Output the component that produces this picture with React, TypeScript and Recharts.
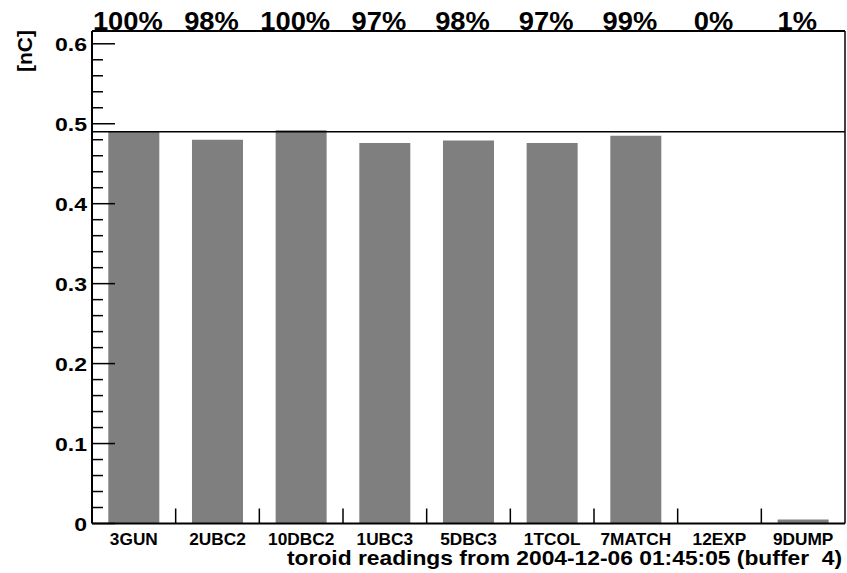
import React from 'react';
import { ComposedChart, Bar, Line, XAxis, YAxis, ReferenceLine, Label } from 'recharts';

// toroid charge per station, in nC
const stations = ['3GUN', '2UBC2', '10DBC2', '1UBC3', '5DBC3', '1TCOL', '7MATCH', '12EXP', '9DUMP'];
const charge = [0.49, 0.48, 0.492, 0.476, 0.479, 0.476, 0.485, 0, 0.005];
const nominalCharge = 0.49;

const yMajorTicks = [0, 0.1, 0.2, 0.3, 0.4, 0.5, 0.6];
const yMinorTicks = [
  0, 0.02, 0.04, 0.06, 0.08, 0.1, 0.12, 0.14, 0.16, 0.18, 0.2, 0.22, 0.24, 0.26, 0.28, 0.3,
  0.32, 0.34, 0.36, 0.38, 0.4, 0.42, 0.44, 0.46, 0.48, 0.5, 0.52, 0.54, 0.56, 0.58, 0.6,
];
const yDomain = [0, 0.616];

const unitLabel = '[nC]';
const title = 'toroid readings from 2004-12-06 01:45:05 (buffer  4)';

const FONT = '"Liberation Sans", Arial, Helvetica, sans-serif';
const INK = '#000';
const Y_LABEL_GAP = 5;

const data = stations.map((name, i) => ({
  name,
  charge: charge[i],
  pct: `${Math.round((charge[i] / nominalCharge) * 100)}%`,
}));

const isMajor = (v: number) => yMajorTicks.some((m) => Math.abs(m - v) < 1e-9);

// left axis: long marks + label on the tenths, short marks on every 0.02
const YTick = ({ x, y, payload }: any) => {
  const axisX = x + Y_LABEL_GAP;
  const major = isMajor(payload.value);
  return (
    <g>
      <line x1={axisX} x2={axisX + (major ? 23 : 11)} y1={y} y2={y} stroke={INK} strokeWidth={1.5} />
      {major && (
        <text
          transform={`translate(${x},${y + 7}) scale(1.28,1)`}
          textAnchor="end"
          fontSize={18}
          fontWeight="bold"
          fontFamily={FONT}
          fill={INK}
        >
          {payload.value === 0 ? '0' : payload.value.toFixed(1)}
        </text>
      )}
    </g>
  );
};

// station name under each bar, plus a small upward mark at the right edge of its slot
const StationTick = ({ x, y, payload, index, width, visibleTicksCount }: any) => {
  const half = width / visibleTicksCount / 2;
  return (
    <g>
      {index < visibleTicksCount - 1 && (
        <line x1={x + half} x2={x + half} y1={y} y2={y - 15} stroke={INK} strokeWidth={1.5} />
      )}
      <text
        transform={`translate(${x},${y + 21}) scale(1.08,1)`}
        textAnchor="middle"
        fontSize={16}
        fontWeight="bold"
        fontFamily={FONT}
        fill={INK}
      >
        {payload.value}
      </text>
    </g>
  );
};

const PctTick = ({ x, y, index }: any) => (
  <text
    transform={`translate(${x - 6},${y - 1}) scale(1.05,1)`}
    textAnchor="middle"
    fontSize={26}
    fontWeight="bold"
    fontFamily={FONT}
    fill={INK}
  >
    {data[index]?.pct}
  </text>
);

const TitleLabel = ({ viewBox }: any) => (
  <text
    x={viewBox.x + viewBox.width - 3}
    y={viewBox.y + 41}
    textAnchor="end"
    fontSize={21}
    fontWeight="bold"
    fontFamily={FONT}
    fill={INK}
    textLength={555}
    lengthAdjust="spacingAndGlyphs"
    style={{ whiteSpace: 'pre' }}
  >
    {title}
  </text>
);

const UnitLabel = ({ viewBox }: any) => (
  <text
    transform={`translate(${viewBox.x + 32},${viewBox.y - 1}) rotate(-90)`}
    textAnchor="end"
    fontSize={21}
    fontWeight="bold"
    fontFamily={FONT}
    fill={INK}
  >
    {unitLabel}
  </text>
);

export default function App() {
  return (
    <div style={{ position: 'absolute', left: 0, top: 0, width: 847, height: 573, background: '#fff' }}>
      <ComposedChart
        width={847}
        height={573}
        data={data}
        margin={{ top: 30, right: 1, bottom: 0, left: 0 }}
        barCategoryGap="19.5%"
      >
        {/* percentages across the top frame */}
        <XAxis
          xAxisId="top"
          orientation="top"
          dataKey="name"
          scale="band"
          height={1}
          tickLine={false}
          tickSize={0}
          tickMargin={0}
          axisLine={{ stroke: INK, strokeWidth: 2 }}
          tick={<PctTick />}
          interval={0}
        />
        <XAxis
          dataKey="name"
          height={49.5}
          tickLine={false}
          tickSize={0}
          tickMargin={0}
          axisLine={{ stroke: INK, strokeWidth: 2 }}
          tick={<StationTick />}
          interval={0}
        >
          <Label content={<TitleLabel />} />
        </XAxis>
        <YAxis
          domain={yDomain}
          ticks={yMinorTicks}
          allowDataOverflow
          width={92}
          tickLine={false}
          tickSize={0}
          tickMargin={Y_LABEL_GAP}
          axisLine={{ stroke: INK, strokeWidth: 2 }}
          tick={<YTick />}
          interval={0}
        >
          <Label content={<UnitLabel />} />
        </YAxis>
        <YAxis
          yAxisId="frame"
          orientation="right"
          domain={yDomain}
          allowDataOverflow
          width={1}
          tick={false}
          tickLine={false}
          axisLine={{ stroke: INK, strokeWidth: 1.5 }}
        />
        <ReferenceLine y={nominalCharge} stroke={INK} strokeWidth={1.5} />
        <Bar dataKey="charge" fill="#7f7f7f" isAnimationActive={false} />
        {/* invisible series that binds the top and right frame axes */}
        <Line
          xAxisId="top"
          yAxisId="frame"
          dataKey="charge"
          stroke="none"
          dot={false}
          activeDot={false}
          legendType="none"
          isAnimationActive={false}
        />
      </ComposedChart>
    </div>
  );
}
